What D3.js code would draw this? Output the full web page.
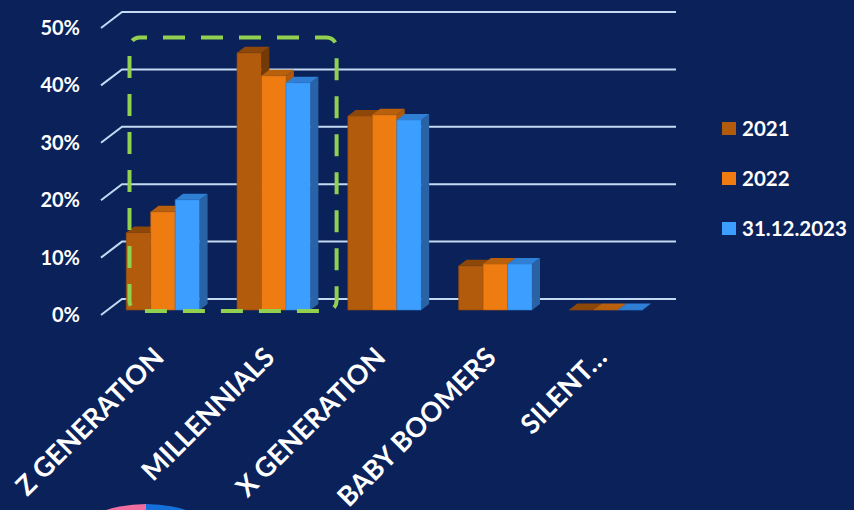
<!DOCTYPE html>
<html>
<head>
<meta charset="utf-8">
<script src="https://cdn.jsdelivr.net/npm/d3@7"></script>
<style>
  html, body { margin: 0; padding: 0; background: #0a215a; }
  #chart { width: 854px; height: 510px; }
  text { font-family: Lato, "Open Sans", sans-serif; font-weight: bold; fill: #fff; }
</style>
</head>
<body>
<div id="chart"></div>
<script>
const width = 854;
const height = 510;

// dados
const categories = ["Z GENERATION", "MILLENNIALS", "X GENERATION", "BABY BOOMERS", "SILENT…"];
const series = ["2021", "2022", "31.12.2023"];
const values2021 = [13.5, 44.8, 33.8, 7.7, 0.1];
const values2022 = [17.1, 40.8, 34.0, 8.0, 0.1];
const values2023 = [19.2, 39.6, 33.1, 8.0, 0.1];
const yTicks = [0, 10, 20, 30, 40, 50];

const seriesValues = [values2021, values2022, values2023];

// cores: frente, topo, lado
const colors = {
  "2021": { front: "#b25b0d", top: "#8d4709", side: "#733a07" },
  "2022": { front: "#ef7c11", top: "#b9600d", side: "#b0590b" },
  "31.12.2023": { front: "#3c9eff", top: "#2f7fd5", side: "#2963a6" }
};

const svg = d3.select("#chart")
  .append("svg")
  .attr("width", width)
  .attr("height", height)
  .style("display", "block");

svg.append("rect")
  .attr("width", width)
  .attr("height", height)
  .attr("fill", "#0a215a");

// pizza cortada no rodapé (outro gráfico do slide)
const pie = svg.append("g").attr("transform", "translate(146,640)");
const arc = d3.arc().innerRadius(0).outerRadius(136);
pie.append("path").attr("d", arc({ startAngle: 0, endAngle: Math.PI })).attr("fill", "#1670dc");
pie.append("path").attr("d", arc({ startAngle: Math.PI, endAngle: 2 * Math.PI })).attr("fill", "#f06ea0");

// escalas (plano frontal, profundidade z em [0,1])
const x0 = d3.scaleBand()
  .domain(categories)
  .range([101, 655]);

const gap = 18.65;
const x1 = d3.scaleBand()
  .domain(series)
  .range([gap, x0.bandwidth() - gap]);

const y = d3.scaleLinear()
  .domain([0, 50])
  .range([315, 28]);

const depthX = 21;
const depthY = -16;
const px = (x, z) => x + depthX * z;
const py = (v, z) => y(v) + depthY * z;
const z0 = 0.3125;
const z1 = 0.6875;

// grade (parede lateral + fundo)
const [xmin, xmax] = x0.range();
svg.append("g")
  .selectAll("polyline")
  .data(yTicks)
  .enter()
  .append("polyline")
  .attr("points", d => [
    [px(xmin, 0), py(d, 0)],
    [px(xmin, 1), py(d, 1)],
    [px(xmax, 1), py(d, 1)]
  ].join(" "))
  .attr("fill", "none")
  .attr("stroke", "#c3daf2")
  .attr("stroke-width", 2);

// eixo Y
const yAxis = svg.append("g")
  .attr("transform", "translate(80,0)")
  .call(d3.axisLeft(y).tickValues(yTicks).tickSize(0).tickPadding(0).tickFormat(d => d + "%"));
yAxis.select(".domain").remove();
yAxis.selectAll("text")
  .attr("font-size", 20)
  .attr("font-family", "Lato")
  .attr("fill", "#fff");

// barras 3D
const bars = [];
categories.forEach((c, i) => {
  series.forEach((s, j) => {
    bars.push({ cat: c, serie: s, value: seriesValues[j][i] });
  });
});

const barG = svg.append("g")
  .selectAll("g")
  .data(bars)
  .enter()
  .append("g");

const poly = pts => pts.map(p => p.join(",")).join(" ");

barG.append("polygon")
  .attr("points", d => {
    const xl = x0(d.cat) + x1(d.serie);
    const xr = xl + x1.bandwidth();
    return poly([[px(xl, z0), py(0, z0)], [px(xl, z0), py(d.value, z0)], [px(xr, z0), py(d.value, z0)], [px(xr, z0), py(0, z0)]]);
  })
  .attr("fill", d => colors[d.serie].front)
  .attr("stroke", d => colors[d.serie].top)
  .attr("stroke-width", 0.6);

barG.append("polygon")
  .attr("points", d => {
    const xr = x0(d.cat) + x1(d.serie) + x1.bandwidth();
    return poly([[px(xr, z0), py(0, z0)], [px(xr, z0), py(d.value, z0)], [px(xr, z1), py(d.value, z1)], [px(xr, z1), py(0, z1)]]);
  })
  .attr("fill", d => colors[d.serie].side);

barG.append("polygon")
  .attr("points", d => {
    const xl = x0(d.cat) + x1(d.serie);
    const xr = xl + x1.bandwidth();
    return poly([[px(xl, z0), py(d.value, z0)], [px(xr, z0), py(d.value, z0)], [px(xr, z1), py(d.value, z1)], [px(xl, z1), py(d.value, z1)]]);
  })
  .attr("fill", d => colors[d.serie].top);

// destaque tracejado (Z + Millennials)
const boxLeft = x0(categories[0]) + 28.5;
const boxRight = x0(categories[1]) + x0.bandwidth() + 14;
const boxTop = y(48) - 2;
const boxBottom = y(0) - 4;
svg.append("rect")
  .attr("x", boxLeft)
  .attr("y", boxTop)
  .attr("width", boxRight - boxLeft)
  .attr("height", boxBottom - boxTop)
  .attr("rx", 10)
  .attr("fill", "none")
  .attr("stroke", "#92d050")
  .attr("stroke-width", 4)
  .attr("stroke-dasharray", "22,16")
  .attr("stroke-dashoffset", 14.5);

// rótulos das categorias
svg.append("g")
  .selectAll("text")
  .data(categories)
  .enter()
  .append("text")
  .attr("transform", d => `translate(${x0(d) + x0.bandwidth() / 2 + 9},359) rotate(-45)`)
  .attr("text-anchor", "end")
  .attr("font-size", 27)
  .text(d => d);

// legenda
const legend = svg.append("g")
  .selectAll("g")
  .data(series)
  .enter()
  .append("g")
  .attr("transform", (d, i) => `translate(722,${122 + i * 50})`);

legend.append("rect")
  .attr("width", 14)
  .attr("height", 13)
  .attr("fill", d => colors[d].front);

legend.append("text")
  .attr("x", 20)
  .attr("y", 13.5)
  .attr("font-size", 20.5)
  .text(d => d);
</script>
</body>
</html>
